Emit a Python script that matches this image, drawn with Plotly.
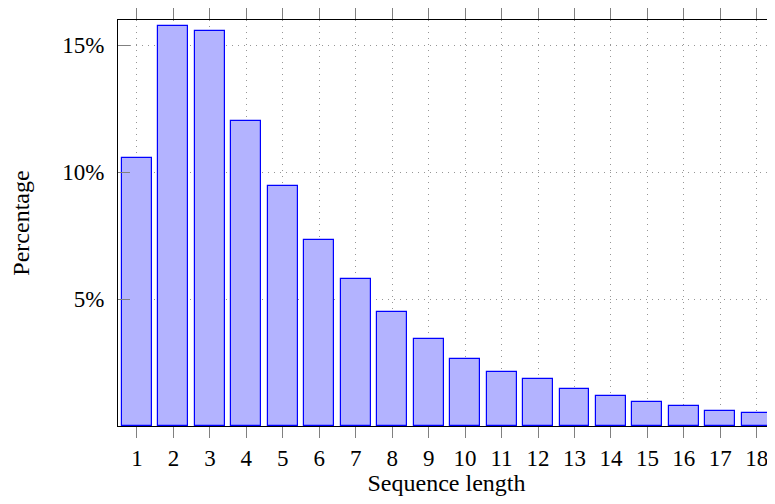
import plotly.graph_objects as go

lengths = list(range(1, 19))
percentages = [10.55, 15.78, 15.55, 12.03, 9.45, 7.34, 5.78, 4.49, 3.44,
               2.66, 2.11, 1.84, 1.45, 1.17, 0.94, 0.78, 0.59, 0.51]
y_tick_vals = [5, 10, 15]
y_tick_text = ["5%", "10%", "15%"]

FONT = "Liberation Serif"

fig = go.Figure()
fig.add_trace(go.Bar(
    x=lengths, y=percentages, width=0.82,
    marker=dict(color="rgb(179,179,255)", line=dict(color="rgb(0,0,255)", width=1.2)),
))

fig.update_layout(
    width=767, height=488,
    margin=dict(l=110, r=0, t=8, b=70),
    plot_bgcolor="white", paper_bgcolor="white",
    font=dict(family=FONT, size=23, color="black"),
    showlegend=False,
    bargap=0,
)
fig.update_xaxes(
    range=[0.48, 18.5], tickvals=lengths, ticktext=[str(v) for v in lengths],
    ticks="outside", ticklen=11, tickcolor="gray", tickwidth=1,
    showline=True, linecolor="black", linewidth=1, mirror="ticks",
    showgrid=True, gridcolor="rgb(150,150,150)", griddash="1px,5px", gridwidth=1,
    title=dict(text="Sequence length", standoff=6, font=dict(size=24)),
    zeroline=False, tickfont=dict(size=23), ticklabeloverflow="allow",
)
fig.update_yaxes(
    range=[0, 16], tickvals=y_tick_vals, ticktext=y_tick_text,
    ticks="inside", ticklen=12, tickcolor="gray", tickwidth=1,
    showline=True, linecolor="black", linewidth=1, mirror=False,
    showgrid=True, gridcolor="rgb(150,150,150)", griddash="1px,5px", gridwidth=1,
    ticklabelstandoff=8,
    title=dict(text="Percentage", standoff=28, font=dict(size=24)),
    zeroline=False, tickfont=dict(size=23),
)

fig.write_html("out.html")
